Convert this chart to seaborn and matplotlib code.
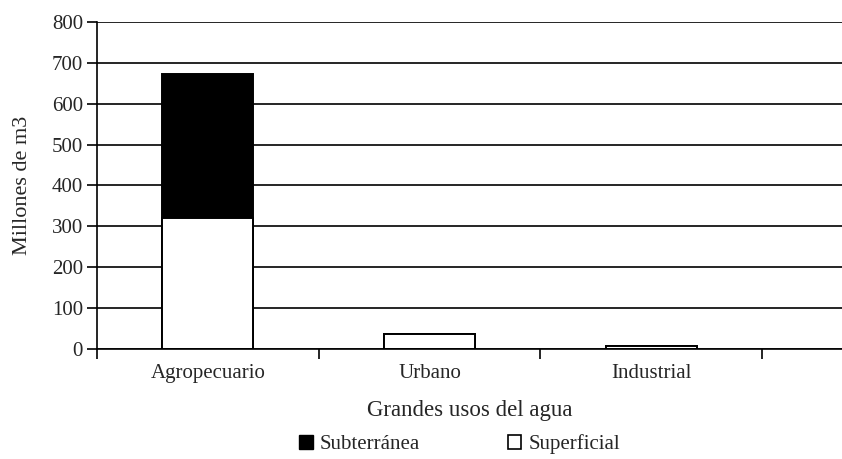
import matplotlib
matplotlib.use("Agg")
import matplotlib.pyplot as plt
import seaborn as sns
from matplotlib.patches import Patch

# datos (millones de m3)
categorias = ["Agropecuario", "Urbano", "Industrial"]
superficial = [320, 37, 7]
subterranea = [352, 0, 0]
y_ticks = [0, 100, 200, 300, 400, 500, 600, 700, 800]

totales = [s + b for s, b in zip(superficial, subterranea)]

sns.set_style("ticks")
plt.rcParams["font.family"] = ["Liberation Serif", "DejaVu Serif"]

fig = plt.figure(figsize=(8.42, 4.59), dpi=100)
ax = fig.add_axes([0.1152, 0.2397, 0.8848, 0.7124])

# barra total en negro y encima la parte superficial en blanco
sns.barplot(x=categorias, y=totales, color="black", edgecolor="black",
            linewidth=1.4, width=0.41, saturation=1, ax=ax)
sns.barplot(x=categorias, y=superficial, color="white", edgecolor="black",
            linewidth=1.4, width=0.41, saturation=1, ax=ax)

ax.set_ylim(0, 800)
ax.set_xlim(-0.5, 2.86)
ax.set_yticks(y_ticks)
ax.yaxis.grid(True, color="black", linewidth=1.2)
ax.set_axisbelow(True)

ax.set_xticks(range(len(categorias)))
ax.set_xticklabels(categorias)
ax.set_xticks([-0.5, 0.5, 1.5, 2.5], minor=True)
ax.tick_params(axis="x", which="major", length=0, pad=11, labelsize=15)
ax.tick_params(axis="x", which="minor", length=7, width=1.2, direction="out", color="black")
ax.tick_params(axis="y", length=7, width=1.2, direction="out", color="black", labelsize=15, pad=3)

for side in ["top", "right"]:
    ax.spines[side].set_visible(False)
for side in ["left", "bottom"]:
    ax.spines[side].set_color("black")
    ax.spines[side].set_linewidth(1.2)

ax.set_xlabel("Grandes usos del agua", fontsize=16.5, labelpad=12)
ax.set_ylabel("Millones de m3", fontsize=16, labelpad=14)

handles = [Patch(facecolor="black", edgecolor="black", label="Subterránea"),
           Patch(facecolor="white", edgecolor="black", linewidth=1.2, label="Superficial")]
fig.legend(handles=handles, loc="lower center", bbox_to_anchor=(0.546, -0.03), ncol=2,
           frameon=False, fontsize=15, handlelength=0.65, handleheight=0.65,
           handletextpad=0.35, columnspacing=4.2)

fig.savefig("out.png", dpi=100, facecolor="white")
